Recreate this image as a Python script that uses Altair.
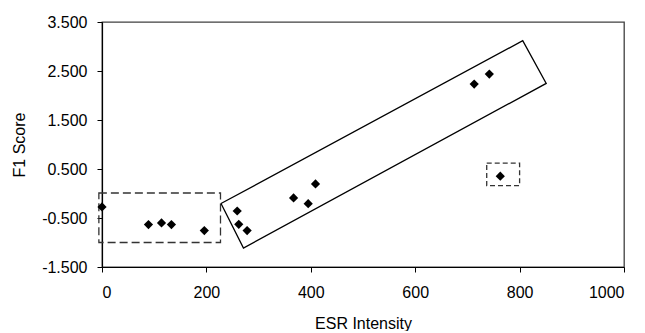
import altair as alt
import pandas as pd

# Data points (ESR Intensity vs F1 Score)
esr = [0, 89, 114, 133, 196, 259, 262, 278, 367, 395, 409, 713, 742, 763]
f1 = [-0.275, -0.635, -0.60, -0.635, -0.757, -0.357, -0.63, -0.757,
      -0.09, -0.207, 0.195, 2.233, 2.437, 0.353]

# Dashed boxes (data units)
box_x = [-6, 737]
box_x2 = [227, 800]
box_y = [-1.0, 0.16]
box_y2 = [0.01, 0.62]
box_dash = ["big", "small"]

# Rotated solid band (corner points, closed)
band_x = [228, 271, 851, 806, 228]
band_y = [-0.205, -1.113, 2.247, 3.118, -0.205]
band_order = [0, 1, 2, 3, 4]

x_ticks = [0, 200, 400, 600, 800, 1000]
y_ticks = [-1.5, -0.5, 0.5, 1.5, 2.5, 3.5]

FONT = "Liberation Sans"

pts = pd.DataFrame({"x": esr, "y": f1})
boxes = pd.DataFrame({"x": box_x, "x2": box_x2, "y": box_y, "y2": box_y2, "k": box_dash})
band = pd.DataFrame({"x": band_x, "y": band_y, "o": band_order})

xs = alt.Scale(domain=[0, 1000], nice=False, zero=False)
ys = alt.Scale(domain=[-1.5, 3.5], nice=False, zero=False)

x_axis = alt.Axis(values=x_ticks, grid=False, format="d", tickSize=5,
                  labelPadding=12, titleY=56, titleBaseline="middle")
y_axis = alt.Axis(values=y_ticks, grid=False, tickSize=5, labelPadding=10,
                  labelExpr="(datum.value < 0 ? '-' : '') + format(abs(datum.value), '.3f')",
                  titleX=-83, titleBaseline="middle")

XT = "ESR Intensity"
YT = "F1 Score"

points = alt.Chart(pts).mark_point(shape="diamond", filled=True, color="black", size=85, opacity=1).encode(
    x=alt.X("x:Q", scale=xs, axis=x_axis, title=XT),
    y=alt.Y("y:Q", scale=ys, axis=y_axis, title=YT),
)

big_box = alt.Chart(boxes[boxes.k == "big"]).mark_rect(
    fillOpacity=0, stroke="#333333", strokeWidth=1.3, strokeDash=[8, 4]
).encode(
    x=alt.X("x:Q", scale=xs, title=XT), x2="x2:Q",
    y=alt.Y("y:Q", scale=ys, title=YT), y2="y2:Q",
)

small_box = alt.Chart(boxes[boxes.k == "small"]).mark_rect(
    fillOpacity=0, stroke="#333333", strokeWidth=1.3, strokeDash=[5, 3]
).encode(
    x=alt.X("x:Q", scale=xs, title=XT), x2="x2:Q",
    y=alt.Y("y:Q", scale=ys, title=YT), y2="y2:Q",
)

band_line = alt.Chart(band).mark_line(color="black", strokeWidth=1.3).encode(
    x=alt.X("x:Q", scale=xs, title=XT),
    y=alt.Y("y:Q", scale=ys, title=YT),
    order="o:Q",
)

chart = alt.layer(big_box, small_box, band_line, points).properties(
    width=522, height=245,
    autosize=alt.AutoSizeParams(type="none"),
    padding={"left": 94, "top": 14, "right": 13, "bottom": 64},
).configure_view(
    stroke="#404040", strokeWidth=1.3
).configure_axis(
    domainColor="black", tickColor="black", labelColor="black", titleColor="black",
    labelFont=FONT, titleFont=FONT, labelFontSize=16, titleFontSize=16,
    titleFontWeight="normal", domainWidth=1.2,
)

chart.save("out.html", embed_options={"renderer": "svg", "actions": False})
